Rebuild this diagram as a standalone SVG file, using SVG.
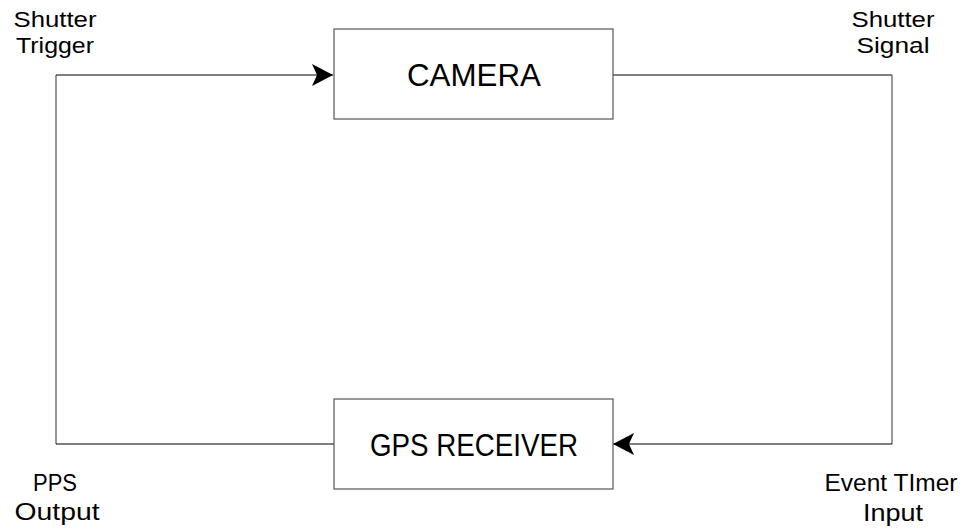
<svg xmlns="http://www.w3.org/2000/svg" width="967" height="529" viewBox="0 0 967 529">
<style>
.box{fill:#fff;stroke:#555;stroke-width:1.2}
.line{fill:none;stroke:#000;stroke-width:1.2}
.vline{fill:none;stroke:#555;stroke-width:1.2}
.big{font-family:"Liberation Sans",Arial,sans-serif;font-size:31px;fill:#000;text-anchor:middle}
.lbl{font-family:"Liberation Sans",Arial,sans-serif;font-size:23px;fill:#000;text-anchor:middle}
.top{font-size:22px}
</style>
<defs>
<marker id="arr" viewBox="0 0 22 22" refX="21" refY="11" markerWidth="22" markerHeight="22" markerUnits="userSpaceOnUse" orient="auto">
<path d="M0,0 L21,11 L0,22 L5,11 Z" fill="#000"/>
</marker>
</defs>
<rect width="967" height="529" fill="#fff"/>
<g id="connectors">
<path class="vline" d="M56,444 L56,75"/>
<path class="line" d="M56,75 L333,75" marker-end="url(#arr)"/>
<path class="line" d="M613,75 L892,75"/>
<path class="vline" d="M892,75 L892,444"/>
<path class="line" d="M892,444 L613,444" marker-end="url(#arr)"/>
<path class="line" d="M334,444 L56,444"/>
</g>
<g id="camera">
<rect class="box" x="334" y="29" width="279" height="90"/>
<text class="big" x="474" y="86" textLength="134" lengthAdjust="spacingAndGlyphs">CAMERA</text>
</g>
<g id="gps-receiver">
<rect class="box" x="334" y="399" width="279" height="90"/>
<text class="big" x="474" y="456" textLength="208" lengthAdjust="spacingAndGlyphs">GPS RECEIVER</text>
</g>
<g id="label-shutter-trigger">
<text class="lbl top" x="55" y="27" textLength="83" lengthAdjust="spacingAndGlyphs">Shutter</text>
<text class="lbl top" x="55" y="53" textLength="78" lengthAdjust="spacingAndGlyphs">Trigger</text>
</g>
<g id="label-shutter-signal">
<text class="lbl top" x="893" y="27" textLength="83" lengthAdjust="spacingAndGlyphs">Shutter</text>
<text class="lbl top" x="893" y="53" textLength="73" lengthAdjust="spacingAndGlyphs">Signal</text>
</g>
<g id="label-pps-output">
<text class="lbl" x="55" y="491" textLength="44" lengthAdjust="spacingAndGlyphs">PPS</text>
<text class="lbl" x="57" y="520" textLength="85" lengthAdjust="spacingAndGlyphs">Output</text>
</g>
<g id="label-event-timer-input">
<text class="lbl" x="891" y="491" textLength="133" lengthAdjust="spacingAndGlyphs">Event TImer</text>
<text class="lbl" x="893" y="521" textLength="60" lengthAdjust="spacingAndGlyphs">Input</text>
</g>
</svg>
